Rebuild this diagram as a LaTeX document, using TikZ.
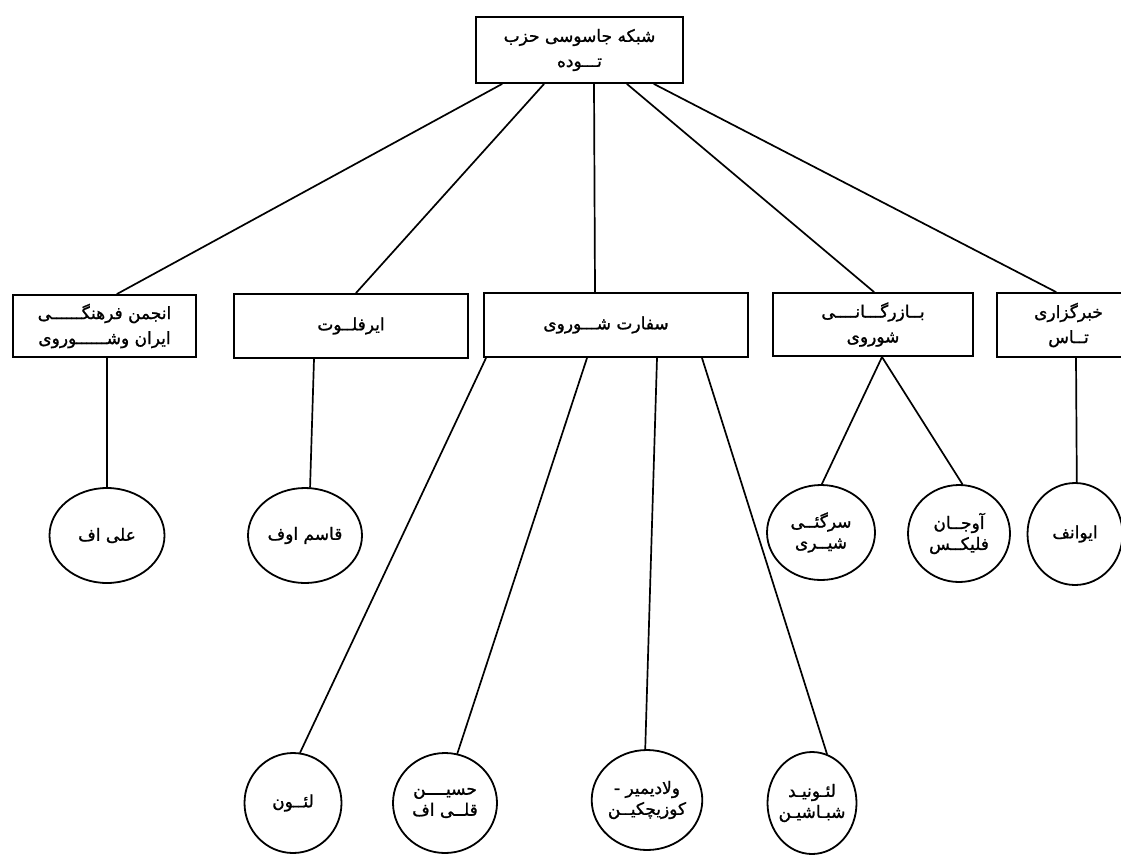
\documentclass[tikz,border=0pt]{standalone}
\usepackage{fontspec}
\newfontfamily\arabicfont[Script=Arabic, FakeBold=1.2]{DejaVu Sans}
\TeXXeTstate=1
\usetikzlibrary{shapes.geometric}
\newcommand{\rtltext}[1]{\beginR #1\endR}
\tikzset{
  boxnode/.style={draw, line width=2pt, inner sep=0pt, align=center,
    font=\arabicfont\fontsize{17}{25}\selectfont},
  leafnode/.style={draw, ellipse, line width=1.8pt, inner sep=0pt, align=center,
    font=\arabicfont\fontsize{17}{21}\selectfont},
  conn/.style={line width=1.7pt, line cap=round}
}
\begin{document}
\begin{tikzpicture}[x=1pt,y=-1pt]
\useasboundingbox[fill=white] (0,0) rectangle (1121,854);

% root
\node[boxnode, minimum width=207pt, minimum height=66pt] (root) at (579.5,50)
  {\rtltext{شبکه جاسوسی حزب}\\\rtltext{تـــوده}};

% level 1
\node[boxnode, minimum width=183pt, minimum height=62pt] (b1) at (104.5,326)
  {\rtltext{انجمن فرهنگــــــی}\\\rtltext{ایران وشــــــوروی}};
\node[boxnode, minimum width=234pt, minimum height=64pt] (b2) at (351,326)
  {\rtltext{ایرفلــوت}};
\node[boxnode, minimum width=264pt, minimum height=64pt] (b3) at (616,325)
  {\rtltext{سفارت شـــوروی}\hspace*{20pt}};
\node[boxnode, minimum width=200pt, minimum height=63pt] (b4) at (873,324.5)
  {\rtltext{بــازرگـــانــــی}\\\rtltext{شوروی}};
\node[boxnode, minimum width=143pt, minimum height=64pt] (b5) at (1068.5,325)
  {\rtltext{خبرگزاری}\\\rtltext{تــاس}};

% level 2
\node[leafnode, minimum width=115pt, minimum height=95pt] (c1) at (107,535.5)
  {\rtltext{علی  اف}};
\node[leafnode, minimum width=114pt, minimum height=95pt] (c2) at (305,535.5)
  {\rtltext{قاسم اوف}};
\node[leafnode, minimum width=108pt, minimum height=95pt] (c3) at (821,532.5)
  {\rtltext{سرگئــی}\\\rtltext{شیــری}};
\node[leafnode, minimum width=102pt, minimum height=97pt] (c4) at (959,533.5)
  {\rtltext{آوجــان}\\\rtltext{فلیکــس}};
\node[leafnode, minimum width=95pt, minimum height=102pt] (c5) at (1075,534)
  {\rtltext{ایوانف}};

\node[leafnode, minimum width=97pt, minimum height=100pt] (d1) at (293,803)
  {\rtltext{لئــون}};
\node[leafnode, minimum width=104pt, minimum height=100pt] (d2) at (445,803)
  {\rtltext{حسیــــن}\\\rtltext{قلــی اف}};
\node[leafnode, minimum width=109pt, minimum height=100pt] (d3) at (647,800)
  {\rtltext{ولادیمیر -}\\\rtltext{کوزیچکیــن}};
\node[leafnode, inner xsep=-6pt, minimum width=89pt, minimum height=102pt] (d4) at (812,803)
  {\rtltext{لئـونیـد}\\\rtltext{شبـاشیـن}};

% connectors root -> level 1
\draw[conn] ([xshift=27pt]root.south west) -- ([xshift=105pt]b1.north west);
\draw[conn] ([xshift=69pt]root.south west) -- ([xshift=123pt]b2.north west);
\draw[conn] ([xshift=119pt]root.south west) -- ([xshift=112pt]b3.north west);
\draw[conn] ([xshift=152pt]root.south west) -- ([xshift=102pt]b4.north west);
\draw[conn] ([xshift=179pt]root.south west) -- ([xshift=60pt]b5.north west);

% level 1 -> level 2
\draw[conn] ([xshift=2.5pt]b1.south) -- (c1.north);
\draw[conn] ([xshift=81pt]b2.south west) -- (c2.84);
\draw[conn] ([xshift=110pt]b4.south west) -- (c3.89);
\draw[conn] ([xshift=110pt]b4.south west) -- (c4.86);
\draw[conn] ([xshift=80pt]b5.south west) -- (c5.88);

\draw[conn] ([xshift=3pt]b3.south west) -- (d1.82);
\draw[conn] ([xshift=104pt]b3.south west) -- (d2.76);
\draw[conn] ([xshift=174pt]b3.south west) -- (d3.92);
\draw[conn] ([xshift=219pt]b3.south west) -- (d4.73);
\end{tikzpicture}
\end{document}
